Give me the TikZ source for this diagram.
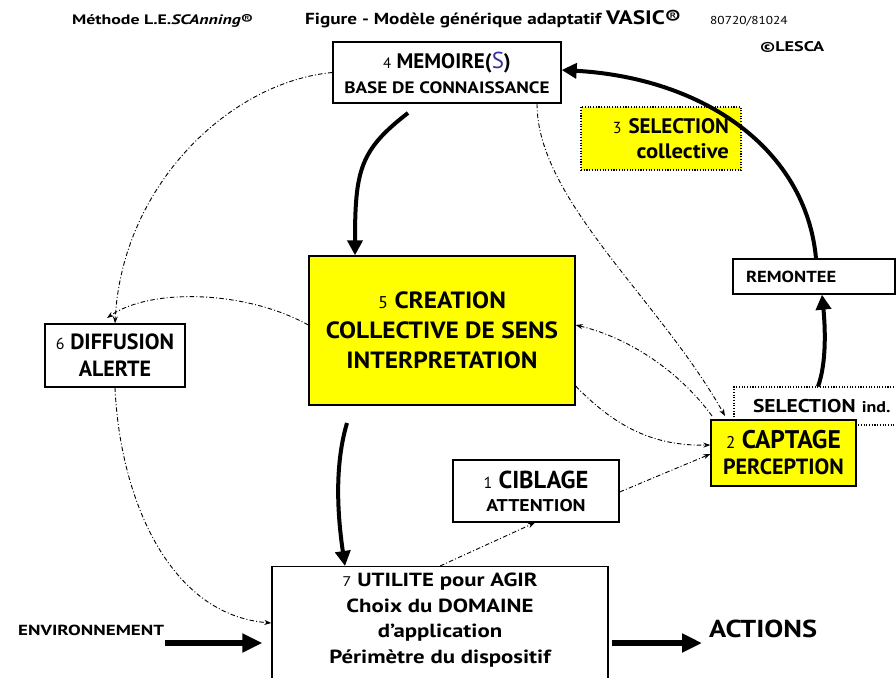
\documentclass[tikz,border=0pt]{standalone}
\usepackage{fontspec}
\setmainfont{PT Sans}
\newfontfamily\sA{PT Sans}[FakeStretch=1.08]
\newfontfamily\sB{PT Sans}[FakeStretch=1.16]
\newfontfamily\sC{PT Sans}[FakeStretch=1.2]
\newfontfamily\sD{PT Sans}[FakeStretch=1.3]
\usetikzlibrary{arrows.meta}
\definecolor{yel}{RGB}{255,255,0}
\definecolor{sblue}{RGB}{51,51,153}
\begin{document}
\begin{tikzpicture}[x=1pt,y=-1pt,
  box/.style={draw, line width=1.3pt, inner sep=0pt, align=center, font=\bfseries},
  ybox/.style={box, fill=yel},
  dotbox/.style={draw, line width=1.1pt, dash pattern=on 1.1pt off 1.6pt, inner sep=0pt, font=\bfseries},
  txt/.style={inner sep=0pt, anchor=base west, font=\bfseries},
  dd/.style={line width=0.9pt, dash pattern=on 4.5pt off 2.2pt on 1pt off 2.2pt, -{Stealth[length=7pt,width=5pt]}},
  bigarrow/.style={line width=4pt, -{Triangle[length=15pt,width=15pt]}},
  fatarrow/.style={line width=6pt, -{Triangle[length=20pt,width=18pt]}},
]
\useasboundingbox (0,0) rectangle (896,677);
\begin{scope}
\clip (0,0) rectangle (896,677);
% titles
\node[txt, font=\sD\bfseries\fontsize{13.7}{15}\selectfont] (meth) at (72,25) {Méthode L.E.\textit{SCAnning}®};
\node[txt, font=\sC\bfseries\fontsize{16}{17}\selectfont] (fig) at (305,25) {Figure - Modèle générique adaptatif {\fontsize{19.5}{20}\selectfont VASIC®}};
\node[txt, font=\sB\fontsize{11.5}{12}\selectfont] (num) at (710,25) {80720/81024};
\node[txt, font=\sD\bfseries\fontsize{14}{15}\selectfont] (lesca) at (760,52) {©LESCA};

% boxes
\node[box, minimum width=228pt, minimum height=61pt, font=\bfseries\fontsize{21}{25}\selectfont] (mem) at (447,72.5)
  {{\mdseries\fontsize{15}{25}\selectfont 4} MEMOIRE({\mdseries\color{sblue}\fontsize{23}{25}\selectfont S})\\{\sB\fontsize{16.5}{25}\selectfont BASE DE CONNAISSANCE}};

\node[dotbox, fill=yel, minimum width=160pt, minimum height=63pt, text width=136pt, align=right, font=\bfseries\fontsize{21}{25}\selectfont] (selcol) at (661,138.5)
  {{\mdseries\fontsize{16}{25}\selectfont 3} SELECTION\\{\sA collective}};

\node[box, minimum width=162pt, minimum height=35pt, text width=136pt, align=left, font=\sB\bfseries\fontsize{16}{18}\selectfont] (rem) at (814,276.5) {REMONTEE};

\node[ybox, minimum width=266pt, minimum height=149pt, font=\sA\bfseries\fontsize{23.5}{30}\selectfont] (crea) at (442,330.5)
  {{\mdseries\fontsize{17}{30}\selectfont 5} CREATION\\COLLECTIVE DE SENS\\INTERPRETATION};

\node[box, minimum width=140pt, minimum height=63pt, font=\bfseries\fontsize{22}{27}\selectfont] (diff) at (115,355.5)
  {{\mdseries\fontsize{16}{27}\selectfont 6} DIFFUSION\\ALERTE};

\node[dotbox, minimum width=200pt, minimum height=38pt, text width=162pt, align=left, font=\sB\bfseries\fontsize{18.5}{20}\selectfont] (selind) at (834,406)
  {SELECTION {\fontsize{15.5}{20}\selectfont ind.}};

\node[ybox, minimum width=145pt, minimum height=66pt, font=\bfseries\fontsize{25.5}{26}\selectfont] (capt) at (783.5,453)
  {{\mdseries\fontsize{17}{26}\selectfont 2} CAPTAGE\\{\fontsize{22}{26}\selectfont PERCEPTION}};

\node[box, minimum width=166pt, minimum height=62pt, font=\bfseries\fontsize{24.5}{23}\selectfont] (cib) at (536,491)
  {{\mdseries\fontsize{16}{23}\selectfont 1} CIBLAGE\\{\sB\fontsize{17}{23}\selectfont ATTENTION}};

\node[box, minimum width=336pt, minimum height=130pt, anchor=north] (util) at (440,566) {};
\node[inner sep=0pt, align=center, font=\sC\bfseries\fontsize{19}{25.5}\selectfont] (utxt) at (440,620)
  {{\mdseries\fontsize{14}{25.5}\selectfont 7} UTILITE pour AGIR\\Choix du DOMAINE\\d’application\\Périmètre du dispositif};

\node[txt, font=\sD\bfseries\fontsize{14.6}{16}\selectfont] (env) at (18,635) {ENVIRONNEMENT};
\node[txt, font=\sB\bfseries\fontsize{24.5}{26}\selectfont] (act) at (709,637) {ACTIONS};

% thick arrows
\draw[bigarrow] (rem.north -| 816,0) .. controls (806,150) and (705,78) .. (mem.east |- 0,70);
\draw[bigarrow] (selind.north -| 818,0) .. controls (827,362) and (825,325) .. (rem.south -| 822,0);
\draw[bigarrow] (408,113) .. controls (360,150) and (355,170) .. (crea.north -| 355,0);
\coordinate (cu1) at (347,423);
\draw[bigarrow] (cu1) .. controls (336,460) and (336,505) .. (util.north -| 345,0);

\coordinate (envA) at (165,643);
\draw[fatarrow, shorten >=9pt] (envA) -- (util.west |- envA);
\coordinate (actB) at (702,643);
\draw[fatarrow, shorten <=3pt] (util.east |- actB) -- (actB);

% dash-dot arrows
\draw[dd] (mem.west) .. controls (230,82) and (122,185) .. (diff.north);
\draw[dd] (crea.west |- 0,325) .. controls (245,290) and (150,288) .. (107,318);
\draw[dd] (diff.south) .. controls (120,500) and (170,615) .. (util.west |- 0,623);
\draw[dd] (mem.south -| 537,0) .. controls (537,200) and (660,300) .. (725,416);
\draw[dd] (712,416) .. controls (680,372) and (630,338) .. (crea.east |- 0,325);
\draw[dd] (crea.east |- 0,386) .. controls (620,432) and (660,446) .. (capt.west |- 0,445);
\draw[dd] (cib.east |- 0,492) -- (capt.west |- 0,454);
\draw[dd] (util.north -| 440,0) -- (cib.south -| 535,0);
\end{scope}
\end{tikzpicture}
\end{document}
